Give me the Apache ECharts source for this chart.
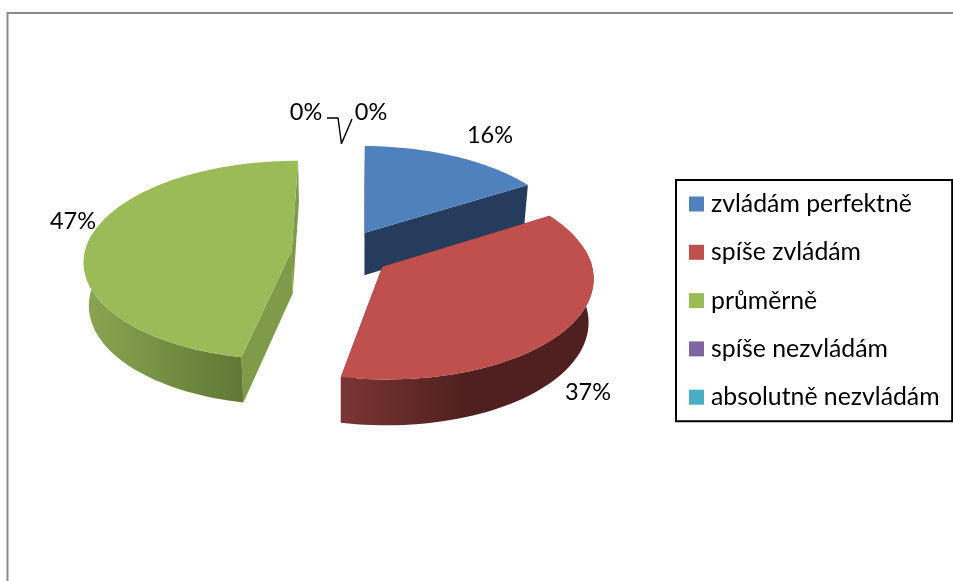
<!DOCTYPE html>
<html>
<head>
<meta charset="utf-8">
<style>html,body{margin:0;padding:0;background:#fff}#c{width:953px;height:581px}</style>
<script src="https://cdn.jsdelivr.net/npm/echarts@6/dist/echarts.min.js"></script>
</head>
<body>
<div id="c"></div>
<script>
// --- data ---
const categories = ['zvládám perfektně', 'spíše zvládám', 'průměrně', 'spíše nezvládám', 'absolutně nezvládám'];
const values = [16, 37, 47, 0, 0];

// --- styles ---
const topColors = ['#4f81bd', '#c0504d', '#9bbb59', '#8064a2', '#4bacc6'];
const faceColors = ['#253c5c', '#4f201f', '#7f9a48', '#4f3e65', '#2f6b7b'];
const wallStops = [
  [[0, '#253c5c'], [1, '#253c5c']],
  [[0, '#7a3533'], [0.5, '#4f201f'], [1, '#4f201f']],
  [[0, '#8aa652'], [1, '#5f7835']],
  [[0, '#4f3e65'], [1, '#4f3e65']],
  [[0, '#2f6b7b'], [1, '#2f6b7b']]
];
const labelFont = '23.5px Lato, sans-serif';

// --- projection of the tilted, exploded pie ---
const view = { cx: 341, cy: 253, a: 207, b: 98.9, k: 0.0976, explode: 0.24, depth: 43, lowerScale: 0.98, startDeg: 0.6, wallFrom: 80, wallTo: 280 };
const labelAnchors = [[490, 135], [588, 392], [73, 221], [306, 112], [371, 112]];
const leaderStarts = [null, null, null, [[327, 118], [338, 118]], [[352, 119]]];

const total = values.reduce((s, v) => s + v, 0);
const rad = d => d * Math.PI / 180;

function project(X, Y, lower) {
  const w = 1 + view.k * Y;
  const s = lower ? view.lowerScale : 1;
  return [
    view.cx + s * view.a * X / w,
    view.cy - s * view.b * Y / w + (lower ? view.depth / w : 0)
  ];
}

function renderSlice(index, params, api) {
  const value = api.value(0);
  const before = values.slice(0, index).reduce((s, v) => s + v, 0);
  const t0 = view.startDeg + before / total * 360;
  const t1 = t0 + value / total * 360;
  const mid = (t0 + t1) / 2;
  const ox = view.explode * Math.sin(rad(mid));
  const oy = view.explode * Math.cos(rad(mid));
  const children = [];

  if (value > 0) {
    const arc = (from, to, lower) => {
      const out = [];
      const n = Math.max(8, Math.round((to - from) / 2));
      for (let i = 0; i <= n; i++) {
        const t = rad(from + (to - from) * i / n);
        out.push(project(ox + Math.sin(t), oy + Math.cos(t), lower));
      }
      return out;
    };
    const up = arc(t0, t1, false), low = arc(t0, t1, true);
    const apexUp = project(ox, oy, false), apexLow = project(ox, oy, true);
    children.push({
      type: 'polygon',
      shape: { points: [apexUp, up[0], low[0], apexLow] },
      style: { fill: faceColors[index] }
    });
    children.push({
      type: 'polygon',
      shape: { points: [apexUp, up[up.length - 1], low[low.length - 1], apexLow] },
      style: { fill: faceColors[index] }
    });
    const wFrom = Math.max(t0, view.wallFrom), wTo = Math.min(t1, view.wallTo);
    if (wTo > wFrom) {
      children.push({
        type: 'polygon',
        shape: { points: arc(wFrom, wTo, false).concat(arc(wFrom, wTo, true).reverse()) },
        style: { fill: new echarts.graphic.LinearGradient(0, 0, 1, 0,
          wallStops[index].map(s => ({ offset: s[0], color: s[1] }))) }
      });
    }
    children.push({
      type: 'polygon',
      shape: { points: [apexUp].concat(up) },
      style: { fill: topColors[index] }
    });
  } else if (leaderStarts[index]) {
    const tip = project(ox, oy + 1, false);
    children.push({
      type: 'polyline',
      shape: { points: leaderStarts[index].concat([tip]) },
      style: { stroke: '#000', lineWidth: 1.4, fill: null }
    });
  }

  children.push({
    type: 'text',
    z2: 10,
    style: {
      text: Math.round(value / total * 100) + '%',
      x: labelAnchors[index][0],
      y: labelAnchors[index][1],
      align: 'center',
      verticalAlign: 'middle',
      fill: '#000',
      font: labelFont
    }
  });
  return { type: 'group', children };
}

const chart = echarts.init(document.getElementById('c'), null, { renderer: 'canvas' });
chart.setOption({
  animation: false,
  backgroundColor: '#fff',
  graphic: [{
    type: 'polyline',
    silent: true,
    shape: { points: [[7.5, 581], [7.5, 13], [953, 13]] },
    style: { stroke: '#8c8c8c', lineWidth: 2, fill: null }
  }],
  legend: {
    orient: 'vertical',
    left: 676,
    top: 180,
    padding: [11.5, 12.6, 11.5, 13],
    itemWidth: 15,
    itemHeight: 15,
    itemGap: 23.3,
    icon: 'rect',
    borderColor: '#000',
    borderWidth: 2,
    backgroundColor: '#fff',
    selectedMode: false,
    data: categories,
    textStyle: { fontFamily: 'Lato, sans-serif', fontSize: 24.8, lineHeight: 20, color: '#000', padding: [0, 0, 0, 2] }
  },
  series: categories.map((name, i) => ({
    type: 'custom',
    name,
    coordinateSystem: 'none',
    silent: true,
    itemStyle: { color: topColors[i] },
    data: [[values[i]]],
    renderItem: (params, api) => renderSlice(i, params, api)
  }))
});
</script>
</body>
</html>
